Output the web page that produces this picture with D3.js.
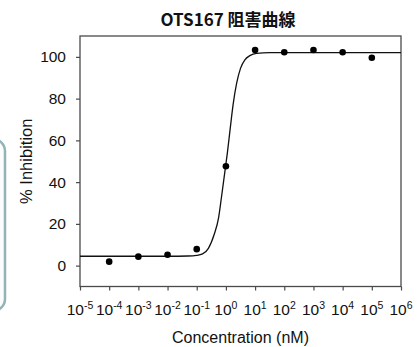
<!DOCTYPE html>
<html>
<head>
<meta charset="utf-8">
<script src="https://cdn.jsdelivr.net/npm/d3@7"></script>
<style>
  html, body { margin: 0; padding: 0; background: #fff; }
  svg { display: block; }
</style>
</head>
<body>
<div id="chart"></div>
<script>
// measured points (concentration in nM, % inhibition)
const concentrations = [1e-4, 1e-3, 1e-2, 1e-1, 1e0, 1e1, 1e2, 1e3, 1e4, 1e5];
const inhibition = [1.9, 4.3, 5.2, 7.9, 47.6, 103.3, 102.2, 103.3, 102.2, 99.6];

// fitted curve (log10 concentration, % inhibition)
const fitLogConc = [-5, -2, -1.3, -1, -0.8, -0.6, -0.4, -0.25, -0.15, -0.05, 0.05, 0.15, 0.25, 0.37, 0.5, 0.65, 0.82, 1.05, 1.5, 6];
const fitInhibition = [4.5, 4.5, 4.6, 4.9, 5.6, 8.3, 15, 23, 33, 43.5, 54, 66, 77.5, 87.5, 94.5, 98.6, 100.6, 101.7, 102, 102];

const xTickExponents = [-5, -4, -3, -2, -1, 0, 1, 2, 3, 4, 5, 6];
const yTicks = [0, 20, 40, 60, 80, 100];

const width = 419, height = 347;
const plotLeft = 80, plotRight = 401, plotTop = 36, plotBottom = 286.5;

const svg = d3.select('#chart').append('svg')
    .attr('width', width)
    .attr('height', height);

// decorative panel edge on the left
svg.append('rect')
    .attr('x', -30).attr('y', 139)
    .attr('width', 35).attr('height', 172)
    .attr('rx', 12)
    .attr('fill', '#fbfdfd')
    .attr('stroke', '#93b3b8')
    .attr('stroke-width', 2.5);

const x = d3.scaleLog().domain([1e-5, 1e6]).range([plotLeft, plotRight]);
const y = d3.scaleLinear().domain([-10, 110]).range([plotBottom, plotTop]);

const axisColor = '#4a4a4a';
const font = '"Liberation Sans", Arial, sans-serif';

// frame
svg.append('rect')
    .attr('x', plotLeft).attr('y', plotTop)
    .attr('width', plotRight - plotLeft).attr('height', plotBottom - plotTop)
    .attr('fill', 'none')
    .attr('stroke', axisColor)
    .attr('stroke-width', 1.3);

// y axis
const yAxis = svg.append('g')
    .attr('transform', `translate(${plotLeft},0)`)
    .call(d3.axisLeft(y).tickValues(yTicks).tickSize(4).tickPadding(10));
yAxis.select('.domain').remove();
yAxis.selectAll('line').attr('stroke', axisColor).attr('stroke-width', 1.2);
yAxis.selectAll('text')
    .attr('font-family', font)
    .attr('font-size', 15.5)
    .attr('fill', '#111');

// x axis ticks
const xAxis = svg.append('g')
    .attr('transform', `translate(0,${plotBottom})`)
    .call(d3.axisBottom(x).tickValues(xTickExponents.map(e => Math.pow(10, e))).tickSize(4).tickFormat(''));
xAxis.select('.domain').remove();
xAxis.selectAll('line').attr('stroke', axisColor).attr('stroke-width', 1.2);

// x tick labels with superscript exponents
const xl = svg.append('g');
xTickExponents.forEach(e => {
    const t = xl.append('text')
        .attr('x', x(Math.pow(10, e)))
        .attr('y', 314.5)
        .attr('text-anchor', 'middle')
        .attr('font-family', font)
        .attr('font-size', 15.5)
        .attr('fill', '#111');
    t.append('tspan').text('10');
    t.append('tspan').attr('font-size', 10.5).attr('dy', -6).text(e);
});

// axis titles
svg.append('text')
    .attr('x', (plotLeft + plotRight) / 2)
    .attr('y', 343)
    .attr('text-anchor', 'middle')
    .attr('font-family', font)
    .attr('font-size', 16)
    .attr('fill', '#111')
    .text('Concentration (nM)');

svg.append('text')
    .attr('transform', `translate(32,${(plotTop + plotBottom) / 2}) rotate(-90)`)
    .attr('text-anchor', 'middle')
    .attr('font-family', font)
    .attr('font-size', 16.5)
    .attr('fill', '#111')
    .text('% Inhibition');

// title
svg.append('text')
    .attr('x', 228)
    .attr('y', 26)
    .attr('text-anchor', 'middle')
    .attr('font-family', '"Noto Sans CJK JP", "Noto Sans", sans-serif')
    .attr('font-weight', 'bold')
    .attr('font-size', 17)
    .attr('fill', '#111')
    .text('OTS167 阻害曲線');

// fitted curve
const line = d3.line()
    .x((d, i) => x(Math.pow(10, fitLogConc[i])))
    .y(d => y(d))
    .curve(d3.curveMonotoneX);

svg.append('path')
    .datum(fitInhibition)
    .attr('d', line)
    .attr('fill', 'none')
    .attr('stroke', '#111')
    .attr('stroke-width', 1.3);

// data points
svg.append('g')
    .selectAll('circle')
    .data(concentrations)
    .join('circle')
    .attr('cx', d => x(d))
    .attr('cy', (d, i) => y(inhibition[i]))
    .attr('r', 3.3)
    .attr('fill', '#000');
</script>
</body>
</html>
